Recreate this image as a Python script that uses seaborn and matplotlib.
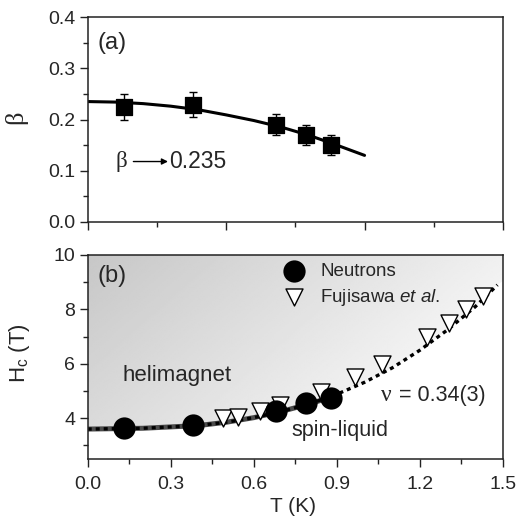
import numpy as np
import pandas as pd
import matplotlib
matplotlib.use("Agg")
import matplotlib.pyplot as plt
from matplotlib.ticker import MultipleLocator
import seaborn as sns

# Temperatures of the neutron measurements (K)
T_neutron = [0.13, 0.38, 0.68, 0.79, 0.88]
# Critical exponent beta and its uncertainty
beta_vals = [0.224, 0.229, 0.190, 0.170, 0.150]
beta_err = [0.025, 0.025, 0.020, 0.020, 0.020]
# Fitted beta(T) curve
T_beta_fit = [0.0, 0.1, 0.2, 0.3, 0.4, 0.5, 0.6, 0.7, 0.8, 0.9, 1.0]
beta_fit = [0.235, 0.234, 0.231, 0.226, 0.219, 0.209, 0.198, 0.185, 0.169, 0.150, 0.130]

# Critical field from neutrons (T)
Hc_neutron = [3.65, 3.74, 4.27, 4.55, 4.73]
# Critical field from Fujisawa et al.
T_fuji = [0.49, 0.543, 0.621, 0.693, 0.844, 0.964, 1.064, 1.226, 1.304, 1.367, 1.429]
Hc_fuji = [4.0, 4.03, 4.26, 4.5, 4.98, 5.5, 6.0, 7.0, 7.5, 8.0, 8.5]
# Phase boundary fit
T_hc_fit = [0.0, 0.2, 0.4, 0.5, 0.6, 0.7, 0.8, 0.9, 1.0, 1.1, 1.2, 1.3, 1.4, 1.48]
Hc_fit = [3.60, 3.63, 3.73, 3.85, 4.02, 4.25, 4.52, 4.88, 5.32, 5.85, 6.50, 7.25, 8.10, 8.90]
T_neutron_fit_end = 0.88

x_ticks_b = [0.0, 0.3, 0.6, 0.9, 1.2, 1.5]

sns.set_theme(style="ticks")
plt.rcParams["font.family"] = ["Liberation Sans", "DejaVu Sans"]
plt.rcParams["mathtext.fontset"] = "custom"
plt.rcParams["mathtext.rm"] = "Liberation Sans"
plt.rcParams["mathtext.it"] = "Liberation Sans:italic"
plt.rcParams["axes.edgecolor"] = "#222222"
plt.rcParams["axes.linewidth"] = 1.1

fig = plt.figure(figsize=(5.29, 5.17), dpi=100)
ax_a = fig.add_axes([0.1658, 0.5706, 0.7850, 0.3965])
ax_b = fig.add_axes([0.1658, 0.1122, 0.7850, 0.3946])

greek = ["Liberation Serif", "DejaVu Serif"]
tick_fs = 14

# ---------------- panel (a) ----------------
df_beta = pd.DataFrame({"T": T_neutron, "beta": beta_vals})
df_beta_fit = pd.DataFrame({"T": T_beta_fit, "beta": beta_fit})
sns.lineplot(data=df_beta_fit, x="T", y="beta", ax=ax_a, color="black",
             lw=2.2, zorder=2, sort=False)
ax_a.errorbar(T_neutron, beta_vals, yerr=beta_err, fmt="none", ecolor="black",
              elinewidth=1.0, capsize=3, capthick=1.0, zorder=2.5)
sns.scatterplot(data=df_beta, x="T", y="beta", ax=ax_a, marker="s", s=130,
                color="black", edgecolor="black", zorder=3)

ax_a.set_xlim(0, 1.5)
ax_a.set_ylim(0, 0.4)
ax_a.xaxis.set_major_locator(MultipleLocator(0.5))
ax_a.xaxis.set_minor_locator(MultipleLocator(0.25))
ax_a.set_yticks([0.0, 0.1, 0.2, 0.3, 0.4])
ax_a.set_yticklabels(["0.0", "0.1", "0.2", "0.3", "0.4"])
ax_a.yaxis.set_minor_locator(MultipleLocator(0.05))
ax_a.tick_params(axis="x", which="both", labelbottom=False)
ax_a.set_xlabel("")
ax_a.set_ylabel("β", fontsize=19, family=greek)
ax_a.yaxis.set_label_coords(-0.145, 0.51)

ax_a.text(0.035, 0.35, "(a)", fontsize=17, va="center", ha="left")
ax_a.text(0.10, 0.118, "β", fontsize=16.5, va="center", ha="left", family=greek)
ax_a.annotate("", xy=(0.29, 0.118), xytext=(0.165, 0.118),
              arrowprops=dict(arrowstyle="-|>", color="black", lw=1.0,
                              mutation_scale=9, shrinkA=0, shrinkB=0))
ax_a.text(0.293, 0.118, "0.235", fontsize=16.5, va="center", ha="left")

# ---------------- panel (b) ----------------
ax_b.set_xlim(0, 1.5)
ax_b.set_ylim(2.5, 10)

# shaded helimagnet region above the phase boundary
poly = ax_b.fill_between(T_hc_fit + [1.5], Hc_fit + [9.05], 10,
                         color="none", lw=0, zorder=0)
xx, yy = np.meshgrid(np.linspace(0, 1, 200), np.linspace(0, 1, 200))
shade = 0.78 + 0.16 * xx + 0.09 * (1 - yy)
img = ax_b.imshow(shade, cmap="gray", vmin=0, vmax=1, origin="lower",
                  extent=[0, 1.5, 2.5, 10], aspect="auto", zorder=0,
                  interpolation="bilinear")
img.set_clip_path(poly.get_paths()[0], transform=ax_b.transData)

n_end = sum(t <= T_neutron_fit_end for t in T_hc_fit)
df_fit_neutron = pd.DataFrame({"T": T_hc_fit[:n_end] + [T_neutron_fit_end],
                               "Hc": Hc_fit[:n_end] + [4.78]})
df_fit = pd.DataFrame({"T": T_hc_fit, "Hc": Hc_fit})
sns.lineplot(data=df_fit_neutron, x="T", y="Hc", ax=ax_b, color="#4a4a4a",
             lw=3.6, zorder=2, sort=False)
sns.lineplot(data=df_fit, x="T", y="Hc", ax=ax_b, color="black", lw=2.4,
             zorder=2.2, sort=False, linestyle=(0, (1.2, 1.2)))

df_hc = pd.DataFrame({"T": T_neutron, "Hc": Hc_neutron})
df_fuji = pd.DataFrame({"T": T_fuji, "Hc": Hc_fuji})
sns.scatterplot(data=df_fuji, x="T", y="Hc", ax=ax_b, marker="v", s=150,
                facecolor="white", edgecolor="black", linewidth=1.0,
                zorder=3, label="Fujisawa $\\it{et\\ al.}$")
sns.scatterplot(data=df_hc, x="T", y="Hc", ax=ax_b, marker="o", s=220,
                color="black", edgecolor="black", zorder=4, label="Neutrons")

handles, labels = ax_b.get_legend_handles_labels()
ax_b.legend(handles[::-1], labels[::-1], loc="upper left",
            bbox_to_anchor=(0.425, 1.015), frameon=False, fontsize=13.5,
            handletextpad=0.4, labelspacing=0.35, borderaxespad=0.2)

ax_b.set_xticks(x_ticks_b)
ax_b.set_xticklabels([f"{v:.1f}" for v in x_ticks_b])
ax_b.xaxis.set_minor_locator(MultipleLocator(0.15))
ax_b.set_yticks([4, 6, 8, 10])
ax_b.yaxis.set_minor_locator(MultipleLocator(1))
ax_b.set_xlabel("T (K)", fontsize=15)
ax_b.set_ylabel("H$_\\mathrm{c}$ (T)", fontsize=16)
ax_b.xaxis.set_label_coords(0.494, -0.185)
ax_b.yaxis.set_label_coords(-0.133, 0.52)

ax_b.text(0.035, 9.23, "(b)", fontsize=17, va="center", ha="left")
ax_b.text(0.127, 5.56, "helimagnet", fontsize=16, va="center", ha="left")
ax_b.text(0.736, 3.53, "spin-liquid", fontsize=15.5, va="center", ha="left")
ax_b.text(1.06, 4.82, "ν", fontsize=17, va="center", ha="left", family=greek)
ax_b.text(1.125, 4.82, "= 0.34(3)", fontsize=15.5, va="center", ha="left")

for ax in (ax_a, ax_b):
    for s in ax.spines.values():
        s.set_visible(True)
    ax.tick_params(which="major", direction="out", length=6, width=1.0,
                   labelsize=tick_fs, pad=3, color="#222222")
    ax.tick_params(which="minor", direction="out", length=3.5, width=1.0,
                   color="#222222")
    ax.tick_params(top=False, right=False)
ax_b.tick_params(axis="x", which="major", pad=6)

fig.savefig("out.png", dpi=100)
